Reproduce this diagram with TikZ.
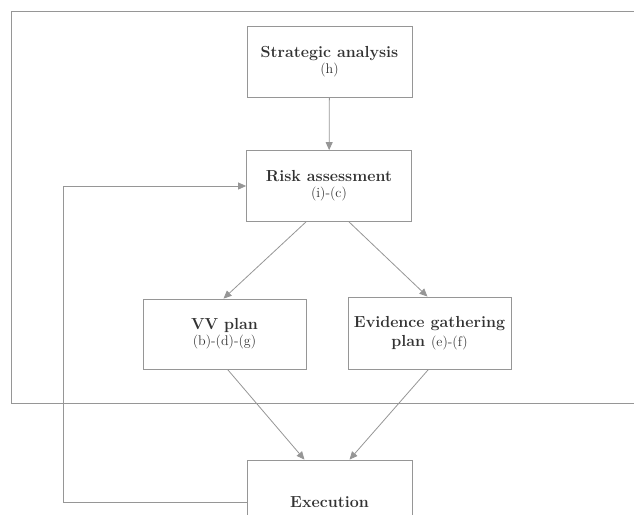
\documentclass[tikz,border=0pt]{standalone}
\usepackage{tikz}
\usetikzlibrary{arrows.meta, positioning}
\definecolor{linegray}{RGB}{150, 150, 150}
\definecolor{textgray}{RGB}{50, 50, 50}
\newcommand{\stepref}[1]{{\fontsize{14}{16}\selectfont\mdseries #1}}

\begin{document}
\begin{tikzpicture}[x=1pt, y=-1pt,
  stage/.style={draw=linegray, line width=0.8pt, minimum width=165pt, minimum height=71pt,
    align=center, text=textgray, font=\fontsize{16}{19}\selectfont\bfseries, inner sep=1pt},
  link/.style={draw=linegray, line width=0.8pt, -{Triangle[width=7pt, length=8pt]}}]
  \useasboundingbox (0,0) rectangle (634,514);
  \clip (0,0) rectangle (634,514);
  % Planning frame
  \draw[linegray, line width=0.8pt] (11,11) rectangle (650,403);
  % Stages
  \node[stage] (strat) at (329.5,61.5) {Strategic analysis\\[-3pt]\stepref{(h)}};
  \node[stage] (risk) at (329,186) {Risk assessment\\[-3pt]\stepref{(i)-(c)}};
  \node[stage, minimum width=163pt, minimum height=70pt] (vv) at (224.5,334) {VV plan\\[-3pt]\stepref{(b)-(d)-(g)}};
  \node[stage, minimum width=163pt, minimum height=72pt] (evid) at (429.5,333) {Evidence gathering\\plan \stepref{(e)-(f)}};
  \node[stage, minimum height=84pt] (exec) at (329.5,502) {Execution};
  \coordinate (loop) at (63,502);
  % Connectors
  \draw[link] (strat) -- (risk);
  \draw[link] ([xshift=-23pt]risk.south) -- ([xshift=-1pt]vv.north);
  \draw[link] ([xshift=20pt]risk.south) -- ([xshift=-2pt]evid.north);
  \draw[link] ([xshift=3pt]vv.south) -- ([xshift=-25pt]exec.north);
  \draw[link] ([xshift=-1pt]evid.south) -- ([xshift=20pt]exec.north);
  \draw[link] (exec.west) -- (loop) |- (risk.west);
\end{tikzpicture}
\end{document}
